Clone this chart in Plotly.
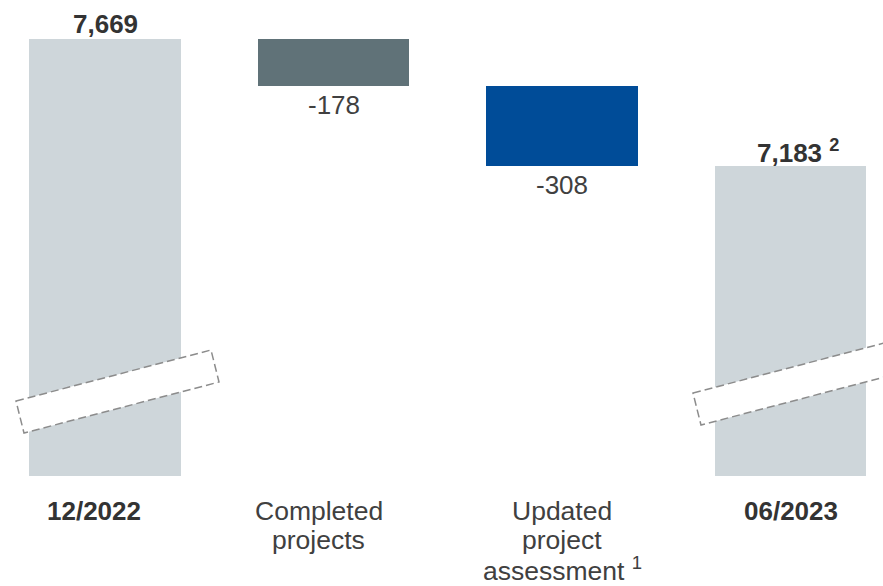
import plotly.graph_objects as go

# ---- data ----
categories = ["<b>12/2022</b>", "Completed<br>projects", "Updated<br>project<br>assessment <sup>1</sup>", "<b>06/2023</b>"]
start_value = 7669
deltas = [-178, -308]
end_value = 7183
value_labels = ["<b>7,669</b>", "-178", "-308", "<b>7,183 <sup>2</sup></b>"]
bar_colors = ["#CED6DA", "#607278", "#004C98", "#CED6DA"]
label_xshift = [-11, -15, 0, 0]

# ---- compute waterfall geometry ----
xs = list(range(len(categories)))
bases, heights = [], []
bases.append(0); heights.append(start_value)
running = start_value
for d in deltas:
    new = running + d
    bases.append(min(running, new)); heights.append(abs(d))
    running = new
bases.append(0); heights.append(end_value)

W, H = 883, 586
T, B = 0, 110
PH = H - T - B
FONT = "Arial, Liberation Sans, sans-serif"

fig = go.Figure()
fig.add_trace(go.Bar(
    x=xs, y=heights, base=bases, width=0.665,
    marker=dict(color=bar_colors, line=dict(width=0)),
    hoverinfo="skip", showlegend=False,
))

annotations = []
tops = [b + h for b, h in zip(bases, heights)]
# value labels
for i, lab in enumerate(value_labels):
    if i in (0, len(value_labels) - 1):
        annotations.append(dict(x=xs[i], y=tops[i], xref="x", yref="y", text=lab,
                                showarrow=False, yanchor="middle", yshift=15,
                                xshift=7 if "sup" in lab else 0,
                                font=dict(family=FONT, size=26, color="#333333")))
    else:
        annotations.append(dict(x=xs[i], y=bases[i], xref="x", yref="y", text=lab,
                                showarrow=False, yanchor="middle", yshift=-19,
                                font=dict(family=FONT, size=26, color="#404040")))

# category labels (line by line for tight line spacing)
for i, cat in enumerate(categories):
    lines = cat.split("<br>")
    for j, line in enumerate(lines):
        py = 511 + 29 * j
        bold = "<b>" in line
        annotations.append(dict(x=xs[i], y=1 - (py - T) / PH, xref="x", yref="paper",
                                text=line, showarrow=False, yanchor="middle",
                                xshift=label_xshift[i],
                                font=dict(family=FONT, size=26 if bold else 26.5,
                                          color="#333333" if bold else "#404040")))

# axis-break symbols (decorations, pixel geometry)
def px_path(pts):
    segs = []
    for k, (px, py) in enumerate(pts):
        xp = px / W
        yp = 1 - (py - T) / PH
        segs.append(("M" if k == 0 else "L") + f"{xp:.5f},{yp:.5f}")
    return " ".join(segs) + " Z"

break_left = [(16, 401), (211, 350), (219, 382), (24, 433)]
break_right = [(693, 393), (888, 342), (896, 374), (701, 425)]
shapes = []
for pts in (break_left, break_right):
    shapes.append(dict(type="path", xref="paper", yref="paper", path=px_path(pts),
                       fillcolor="white", line=dict(color="#8C8C8C", width=1.5, dash="8px,4px"),
                       layer="above"))

y_top = 7669 + 39 / 0.2623
y_bot = y_top - PH / 0.2623

fig.update_layout(
    width=W, height=H,
    margin=dict(l=0, r=0, t=T, b=B),
    paper_bgcolor="white", plot_bgcolor="white",
    xaxis=dict(range=[-105 / 228.5, (W - 105) / 228.5], showticklabels=False,
               showgrid=False, zeroline=False, showline=False, fixedrange=True),
    yaxis=dict(range=[y_bot, y_top], showticklabels=False, showgrid=False,
               zeroline=False, showline=False, fixedrange=True),
    annotations=annotations, shapes=shapes,
    bargap=0,
)

fig.write_html("out.html")
